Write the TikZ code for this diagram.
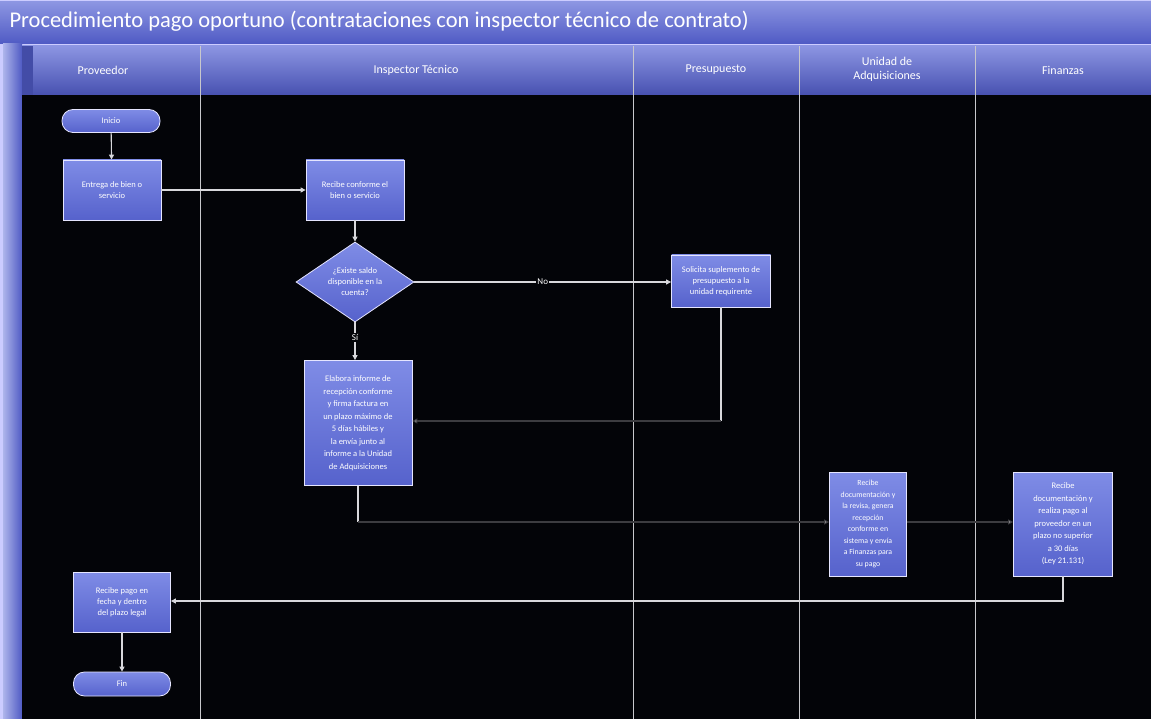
\documentclass[tikz,border=0pt]{standalone}
\usepackage{fontspec}
\setmainfont{Carlito}
\usetikzlibrary{shapes.geometric,arrows.meta}

\definecolor{barlight}{HTML}{8C95E2}
\definecolor{bardark}{HTML}{4F5AC4}
\definecolor{boxtop}{HTML}{7F8CE6}
\definecolor{boxbot}{HTML}{5662CC}
\definecolor{lanegray}{HTML}{C8C8CC}
\definecolor{linegray}{HTML}{D8D8DC}
\definecolor{fainline}{HTML}{3C3C40}
\definecolor{bodybg}{HTML}{030408}

\tikzset{
  x=1pt, y=-1pt,
  flowbox/.style={draw=white!90!blue, line width=0.8pt, top color=boxtop, bottom color=boxbot,
    text=white, font=\fontsize{8.5}{11}\selectfont, align=center, inner sep=1pt},
  pill/.style={flowbox, rounded corners=11pt},
  decision/.style={flowbox, diamond, aspect=1.475, inner sep=0pt},
  lanehead/.style={text=white, font=\fontsize{12}{14}\selectfont, align=center},
  conn/.style={draw=linegray, line width=1.1pt, -{Triangle[length=5pt,width=5pt]}},
  faint/.style={draw=fainline, line width=1.1pt, -{Triangle[length=5pt,width=5pt,fill=linegray]}},
  lanediv/.style={draw=lanegray, line width=1pt},
  flowlabel/.style={text=white, font=\fontsize{9}{10}\selectfont, fill=bodybg, inner sep=1pt}
}

\begin{document}
\begin{tikzpicture}
\useasboundingbox (0,0) rectangle (1151,719);
% frame and title
\fill[white!80!blue] (0,0) rectangle (1151,719);
\shade[top color=barlight, bottom color=bardark] (0,2) rectangle (1151,44);
\node[anchor=west, text=white, font=\fontsize{22.5}{24}\selectfont] (title) at (6,21)
  {Procedimiento pago oportuno (contrataciones con inspector técnico de contrato)};
\shade[left color=barlight!70!white, right color=bardark] (3,44) rectangle (22,719);
% lane headers
\shade[top color=barlight, bottom color=bardark!90!black] (22,46) rectangle (1151,95);
\fill[bardark!85!black] (22,46) rectangle (33,95);
\fill[bodybg] (22,95) rectangle (1151,719);
\foreach \xx in {200,633,799,975}{
  \draw[lanediv] (\xx,46) -- (\xx,719);
}
\node[lanehead] (hprov) at (103,70) {Proveedor};
\node[lanehead] (hinsp) at (416,70) {Inspector Técnico};
\node[lanehead] (hpres) at (716,70) {Presupuesto};
\node[lanehead] (hadq)  at (887,69) {Unidad de\\Adquisiciones};
\node[lanehead] (hfin)  at (1063,70) {Finanzas};

% steps
\node[pill, minimum width=98pt, minimum height=23pt] (inicio) at (111,121) {Inicio};
\node[flowbox, minimum width=98pt, minimum height=60pt] (entrega) at (112,190)
  {Entrega de bien o\\servicio};
\node[flowbox, minimum width=98pt, minimum height=60pt] (recibe) at (355,190)
  {Recibe conforme el\\bien o servicio};
\node[decision, minimum width=118pt, minimum height=80pt] (saldo) at (355,282)
  {¿Existe saldo\\disponible en la\\cuenta?};
\node[flowbox, minimum width=99pt, minimum height=52pt] (suple) at (721,281)
  {Solicita suplemento de\\presupuesto a la\\unidad requirente};
\node[flowbox, minimum width=108pt, minimum height=125pt,
      font=\fontsize{8.5}{12.5}\selectfont] (informe) at (358,423)
  {Elabora informe de\\recepción conforme\\y firma factura en\\un plazo máximo de\\5 días hábiles y\\la envía junto al\\informe a la Unidad\\de Adquisiciones};
\node[flowbox, minimum width=77pt, minimum height=104pt,
      font=\fontsize{7.8}{11.5}\selectfont] (recep) at (868,524)
  {Recibe\\documentación y\\la revisa, genera\\recepción\\conforme en\\sistema y envía\\a Finanzas para\\su pago};
\node[flowbox, minimum width=99pt, minimum height=104pt,
      font=\fontsize{8.5}{12.5}\selectfont] (pago) at (1063,524)
  {Recibe\\documentación y\\realiza pago al\\proveedor en un\\plazo no superior\\a 30 días\\(Ley 21.131)};
\node[flowbox, minimum width=97pt, minimum height=60pt] (cobro) at (122,602)
  {Recibe pago en\\fecha y dentro\\del plazo legal};
\node[pill, minimum width=97pt, minimum height=24pt] (fin) at (122,684) {Fin};

% bends
\coordinate (c1) at (suple.south |- 0,421);
\coordinate (c2) at (informe.south |- 0,522);
\coordinate (c3) at (pago.south |- 0,601);

% connectors
\draw[conn] (inicio) -- (entrega);
\draw[conn] (entrega) -- (recibe);
\draw[conn] (recibe) -- (saldo);
\draw[conn] (saldo.east) -- node[flowlabel, pos=0.5] {No} (suple.west |- saldo.east);
\draw[conn] (saldo) -- node[flowlabel, pos=0.4] {Sí} (saldo.south |- informe.north);
\draw[draw=linegray, line width=1.1pt] (suple.south) -- (c1);
\draw[faint] (c1) -- (informe.east |- c1);
\draw[draw=linegray, line width=1.1pt] (informe.south -| c2) -- (c2);
\draw[faint] (c2) -- (recep.west |- c2);
\draw[faint] (recep.east |- c2) -- (pago.west |- c2);
\draw[conn] (pago.south) -- (c3) -- (cobro.east |- c3);
\draw[conn] (cobro) -- (fin);
\end{tikzpicture}
\end{document}
